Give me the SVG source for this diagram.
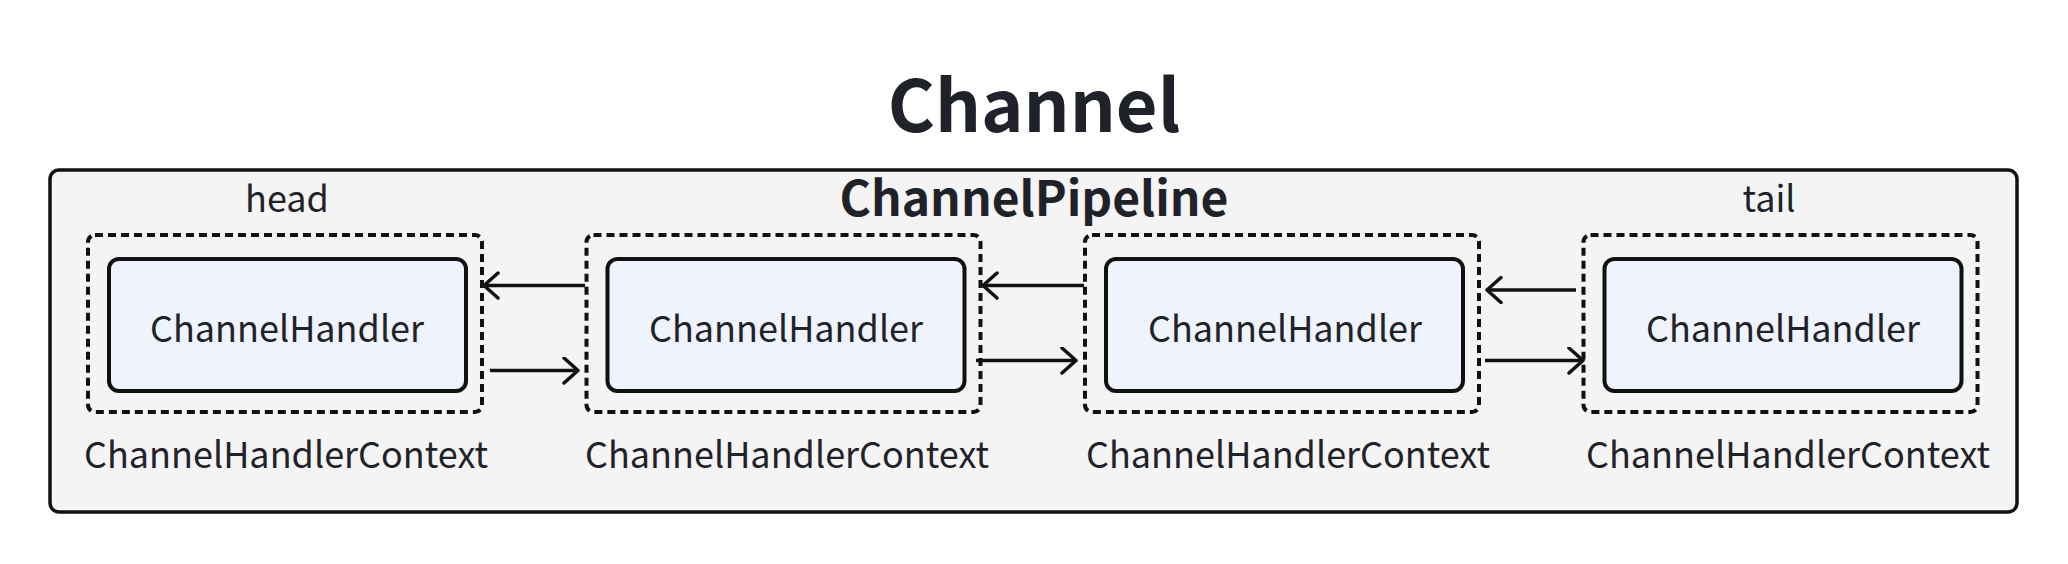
<svg xmlns="http://www.w3.org/2000/svg" width="2068" height="564" viewBox="0 0 2068 564">
<style>
text{font-family:"Noto Sans CJK SC","Source Sans Pro","Liberation Sans",sans-serif;fill:#1f2329;text-anchor:middle}
.title{font-size:72px;font-weight:700}
.sub{font-size:48px;font-weight:700}
.lbl{font-size:36px}
.ctx{fill:none;stroke:#111;stroke-width:4;stroke-dasharray:8 5}
.hdl{fill:#eef3fc;stroke:#111;stroke-width:4}
.conn{stroke:#111;stroke-width:3.5;fill:none;marker-end:url(#ah)}
</style>
<defs>
<marker id="ah" markerUnits="userSpaceOnUse" markerWidth="22" markerHeight="30" refX="17" refY="14" orient="auto">
<path d="M3,1.5 L17,14 L3,26.5" fill="none" stroke="#111" stroke-width="3.5" stroke-linecap="round" stroke-linejoin="round"/>
</marker>
</defs>
<rect width="2068" height="564" fill="#fff"/>
<text class="title" x="1034" y="132">Channel</text>
<g id="pipeline">
<rect x="50" y="170" width="1967" height="342" rx="9" fill="#f4f4f4" stroke="#111" stroke-width="3.5"/>
<text class="sub" x="1034" y="216">ChannelPipeline</text>
</g>
<g id="ctx1">
<text class="lbl" x="287" y="212">head</text>
<rect class="ctx" x="88" y="235" width="394" height="177" rx="7"/>
<rect class="hdl" x="109" y="259" width="357" height="132" rx="10"/>
<text class="lbl" x="287" y="342">ChannelHandler</text>
<text class="lbl" x="286" y="468">ChannelHandlerContext</text>
</g>
<g id="ctx2">
<rect class="ctx" x="586.5" y="235" width="394" height="177" rx="7"/>
<rect class="hdl" x="607.5" y="259" width="357" height="132" rx="10"/>
<text class="lbl" x="786" y="342">ChannelHandler</text>
<text class="lbl" x="787" y="468">ChannelHandlerContext</text>
</g>
<g id="ctx3">
<rect class="ctx" x="1085" y="235" width="394" height="177" rx="7"/>
<rect class="hdl" x="1106" y="259" width="357" height="132" rx="10"/>
<text class="lbl" x="1285" y="342">ChannelHandler</text>
<text class="lbl" x="1288" y="468">ChannelHandlerContext</text>
</g>
<g id="ctx4">
<text class="lbl" x="1769" y="212">tail</text>
<rect class="ctx" x="1583.5" y="235" width="394" height="177" rx="7"/>
<rect class="hdl" x="1604.5" y="259" width="357" height="132" rx="10"/>
<text class="lbl" x="1783" y="342">ChannelHandler</text>
<text class="lbl" x="1788" y="468">ChannelHandlerContext</text>
</g>
<g id="connectors">
<path class="conn" d="M585,285.5 L484,285.5"/>
<path class="conn" d="M490,370.5 L578,370.5"/>
<path class="conn" d="M1084,285.5 L983,285.5"/>
<path class="conn" d="M976,360.5 L1076,360.5"/>
<path class="conn" d="M1576,290 L1487,290"/>
<path class="conn" d="M1485,360.5 L1583,360.5"/>
</g>
</svg>
